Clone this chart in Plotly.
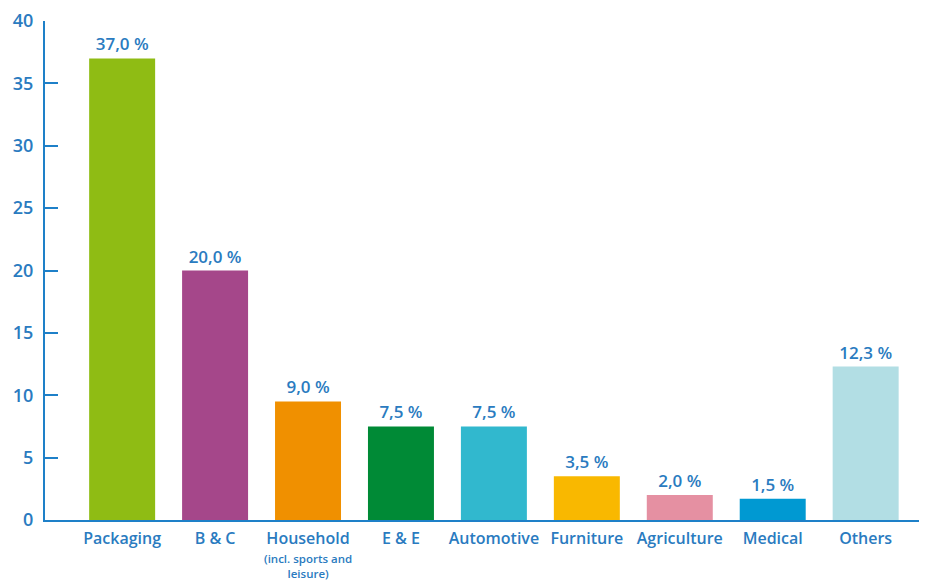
import plotly.graph_objects as go

categories = ["Packaging", "B & C", "Household", "E & E", "Automotive",
              "Furniture", "Agriculture", "Medical", "Others"]
tick_texts = ["Packaging", "B & C", "Household", "E & E", "Automotive",
              "Furniture", "Agriculture", "Medical", "Others"]
sub_label_category = "Household"
sub_label_text = "(incl. sports and<br>leisure)"
values = [37.0, 20.0, 9.5, 7.5, 7.5, 3.5, 2.0, 1.7, 12.3]
value_labels = ["37,0 %", "20,0 %", "9,0 %", "7,5 %", "7,5 %",
                "3,5 %", "2,0 %", "1,5 %", "12,3 %"]
colors = ["#8FBC14", "#A5478A", "#F09000", "#008A36", "#31B8CE",
          "#F9B800", "#E590A2", "#0099D2", "#B2DEE4"]
y_ticks = [0, 5, 10, 15, 20, 25, 30, 35, 40]

BLUE = "#2A7BC0"
LINE = "#1E80C8"
FONT = "Open Sans"

fig = go.Figure(go.Bar(
    x=categories, y=values, marker=dict(color=colors, line=dict(width=0)),
    text=value_labels, textposition="outside", cliponaxis=False,
    textfont=dict(family=FONT, size=17, color=BLUE, weight=600),
    hoverinfo="skip",
))

fig.add_annotation(
    x=sub_label_category, xref="x", y=0, yref="paper",
    yshift=-30, yanchor="top", showarrow=False, text=sub_label_text,
    borderpad=0,
    font=dict(family=FONT, size=11.5, color=BLUE, weight=600),
)

# page body has an 8px default margin, so the figure is 8px smaller
fig.update_layout(
    width=919, height=573,
    margin=dict(l=37, r=0, t=13, b=61),
    paper_bgcolor="white", plot_bgcolor="white",
    bargap=0.29, showlegend=False,
    font=dict(family=FONT, color=BLUE),
    xaxis=dict(
        range=[-0.83, 8.66], tickvals=categories, ticktext=tick_texts,
        showline=True, linecolor=LINE, linewidth=2, ticks="",
        showgrid=False, tickfont=dict(family=FONT, size=16, color=BLUE, weight=600),
        ticklabelstandoff=3, automargin=False,
    ),
    yaxis=dict(
        range=[0, 40], tickvals=y_ticks, showline=True, linecolor=LINE,
        linewidth=2, ticks="inside", ticklen=13, tickwidth=2, tickcolor=LINE,
        showgrid=False, zeroline=False, automargin=False,
        tickfont=dict(family=FONT, size=18, color=BLUE, weight=600),
        ticklabelstandoff=6,
    ),
)

fig.write_html("out.html")
